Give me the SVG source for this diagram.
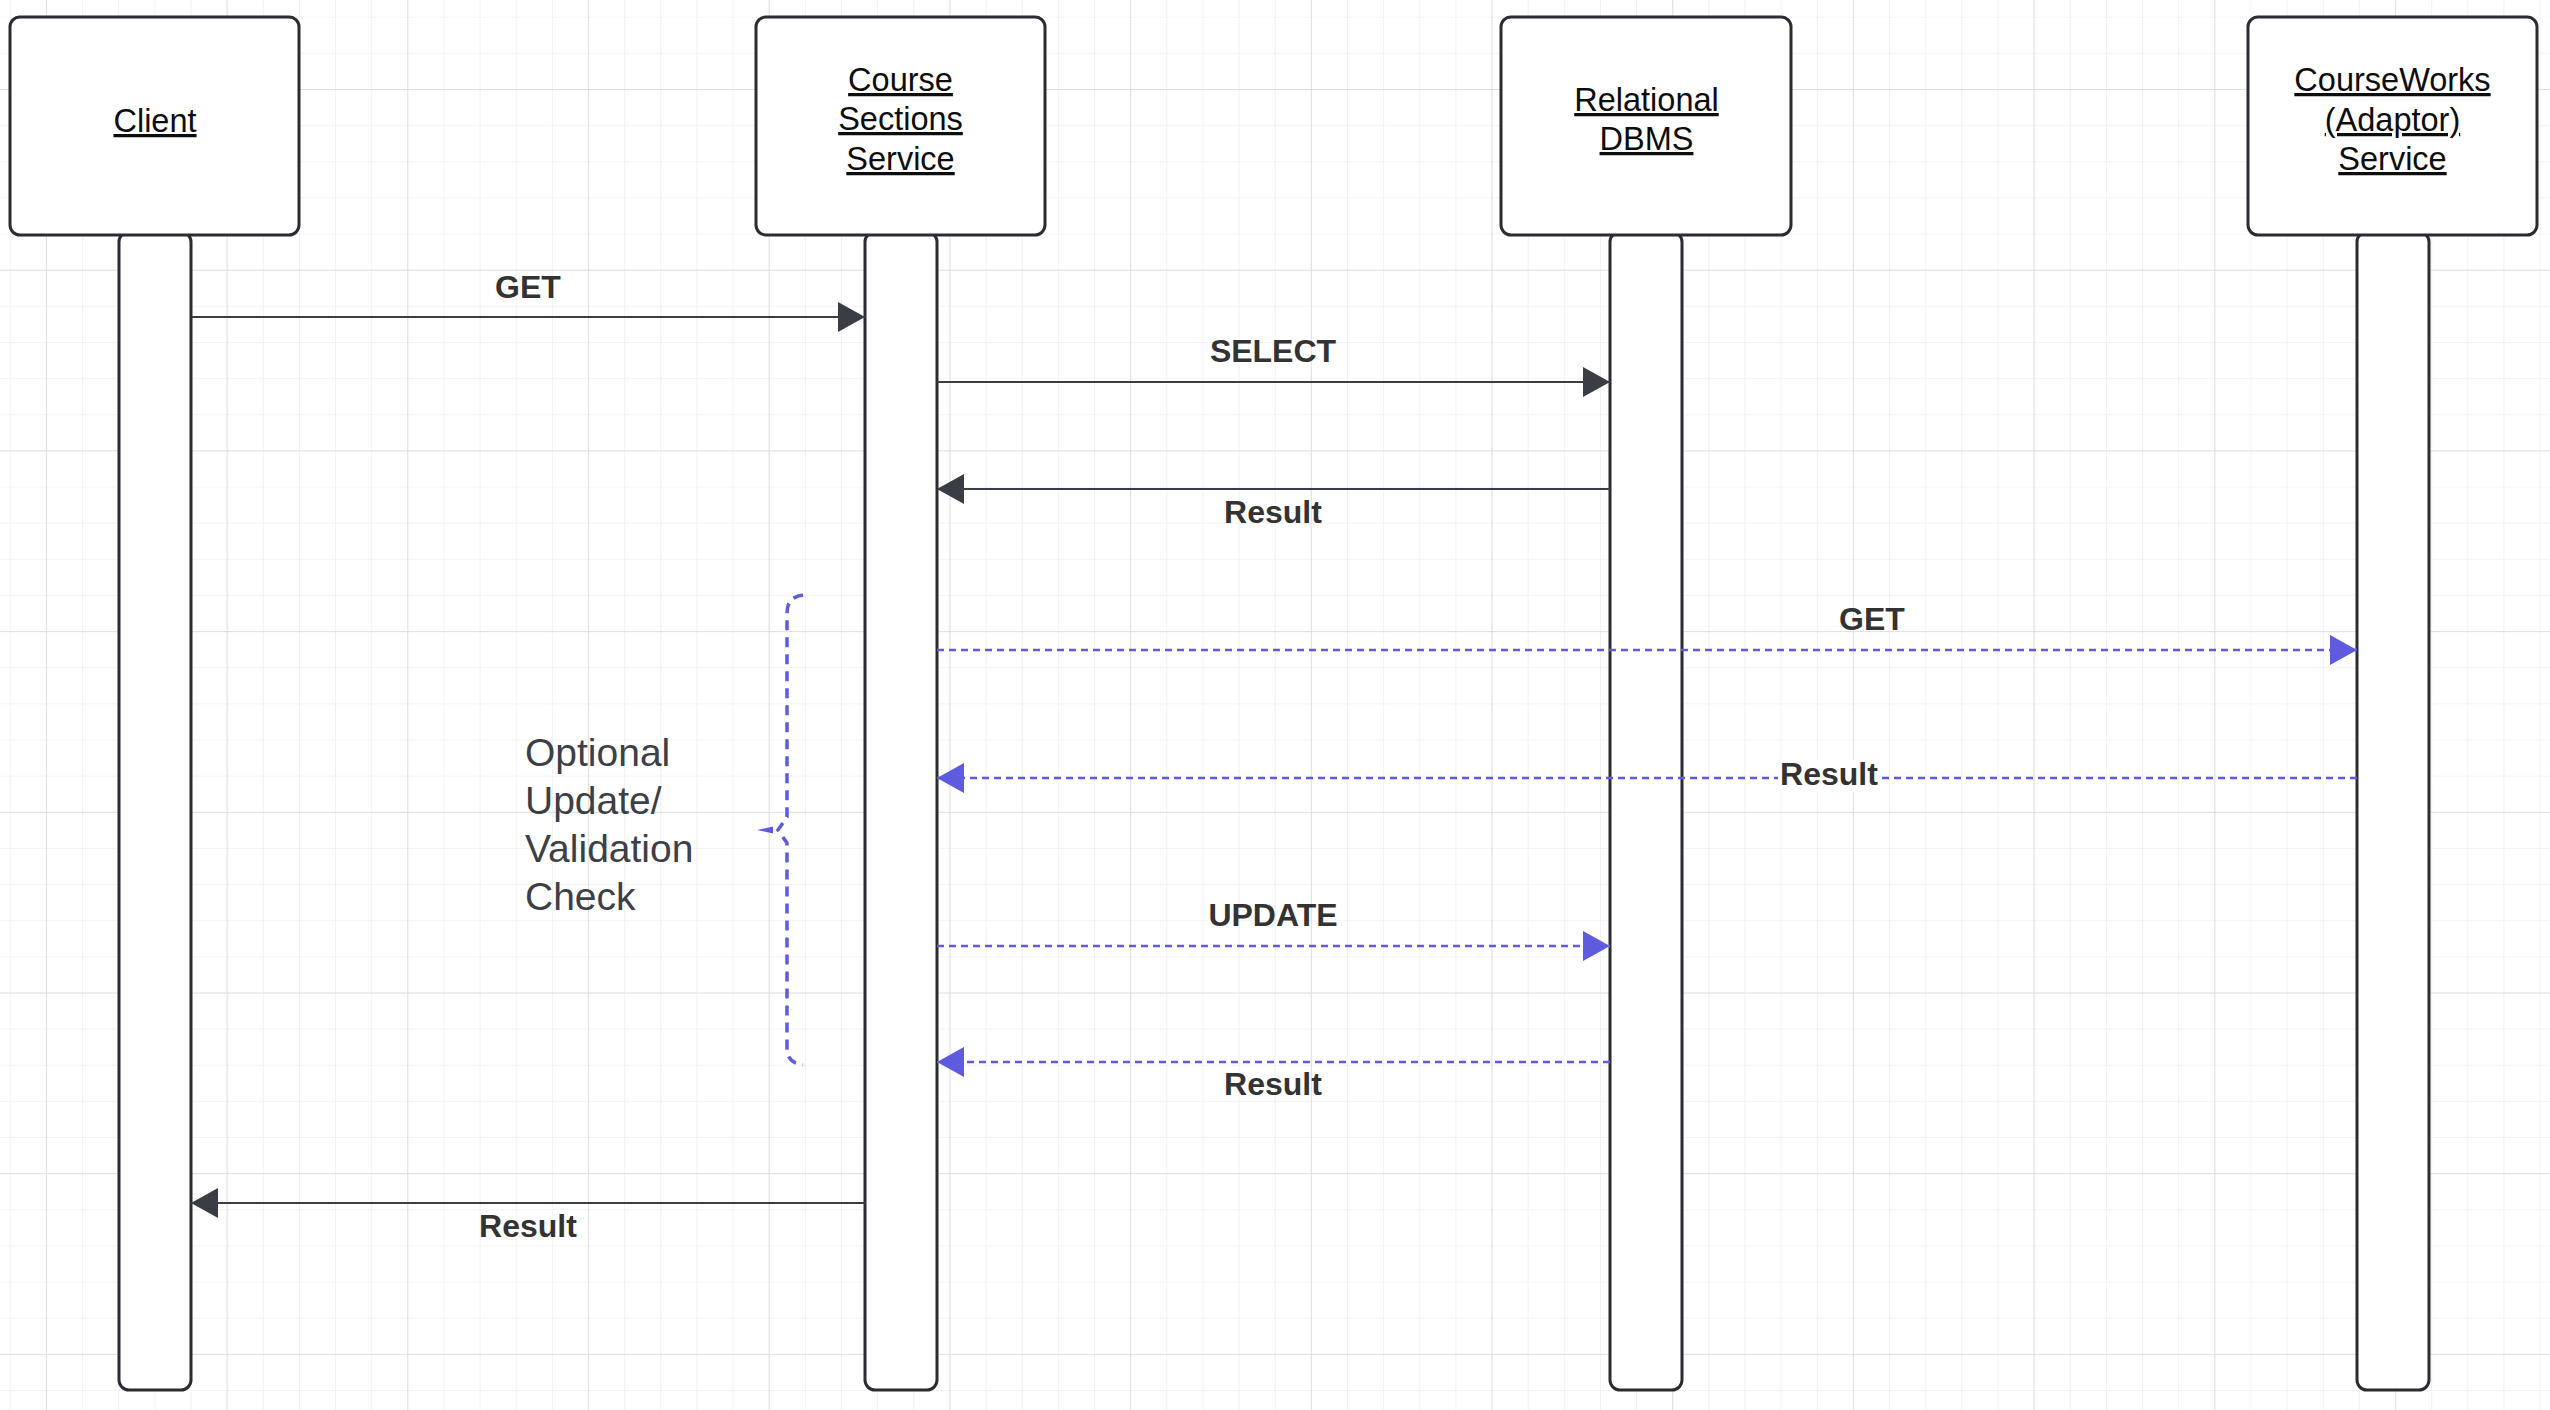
<svg xmlns="http://www.w3.org/2000/svg" width="2550" height="1410" viewBox="0 0 2550 1410">
<defs>
<style>
.box{fill:#ffffff;stroke:#2a2c32;stroke-width:3}
.bar{fill:#ffffff;stroke:#2a2c32;stroke-width:3}
.head{font-family:"Liberation Sans",Arial,sans-serif;font-size:32.5px;fill:#0d0d0d;text-anchor:middle;text-decoration:underline}
.lbl{font-family:"Liberation Sans",Arial,sans-serif;font-size:32px;font-weight:bold;fill:#333333;text-anchor:middle}
.note{font-family:"Liberation Sans",Arial,sans-serif;font-size:39px;fill:#3c3f47}
.solid{stroke:#3a3d44;stroke-width:2;fill:none}
.dash{stroke:#5f5bdf;stroke-width:2.4;fill:none;stroke-dasharray:7 5}
</style>
<pattern id="gminor" patternUnits="userSpaceOnUse" x="9.8" y="16.7" width="36.14" height="36.14">
<path d="M0,0 H36.14 M0,0 V36.14" stroke="#e9e9e9" stroke-width="1.2" fill="none"/>
</pattern>
<pattern id="gmajor" patternUnits="userSpaceOnUse" x="45.9" y="89" width="180.7" height="180.7">
<path d="M0,0 H180.7 M0,0 V180.7" stroke="#d9d9d9" stroke-width="1.4" fill="none"/>
</pattern>
<marker id="ahDark" markerUnits="userSpaceOnUse" markerWidth="28" markerHeight="30" refX="27" refY="15" orient="auto" viewBox="0 0 28 30">
<path d="M0,0 L27,15 L0,30 Z" fill="#3a3d44"/>
</marker>
<marker id="ahBlue" markerUnits="userSpaceOnUse" markerWidth="28" markerHeight="30" refX="27" refY="15" orient="auto" viewBox="0 0 28 30">
<path d="M0,0 L27,15 L0,30 Z" fill="#5f5bdf"/>
</marker>
</defs>
<rect x="0" y="0" width="2550" height="1410" fill="#ffffff"/>
<rect x="0" y="0" width="2550" height="1410" fill="url(#gminor)"/>
<rect x="0" y="0" width="2550" height="1410" fill="url(#gmajor)"/>

<g id="client">
<rect class="bar" x="119" y="232" width="72" height="1158" rx="10"/>
<rect class="box" x="10" y="17" width="289" height="218" rx="10"/>
<text class="head" x="155" y="132">Client</text>
</g>
<g id="course-sections-service">
<rect class="bar" x="865" y="232" width="72" height="1158" rx="10"/>
<rect class="box" x="756" y="17" width="289" height="218" rx="10"/>
<text class="head" x="900.5" y="91">Course</text>
<text class="head" x="900.5" y="130">Sections</text>
<text class="head" x="900.5" y="170">Service</text>
</g>
<g id="relational-dbms">
<rect class="bar" x="1610" y="232" width="72" height="1158" rx="10"/>
<rect class="box" x="1501" y="17" width="290" height="218" rx="10"/>
<text class="head" x="1646.5" y="111">Relational</text>
<text class="head" x="1646.5" y="150">DBMS</text>
</g>
<g id="courseworks-service">
<rect class="bar" x="2357" y="232" width="72" height="1158" rx="10"/>
<rect class="box" x="2248" y="17" width="289" height="218" rx="10"/>
<text class="head" x="2392.5" y="91">CourseWorks</text>
<text class="head" x="2392.5" y="131">(Adaptor)</text>
<text class="head" x="2392.5" y="170">Service</text>
</g>

<g id="optional-note">
<path d="M803,595 Q787,597 787,613 L787,817 L778,830 L787,843 L787,1048 Q787,1063 803,1065" stroke="#5f5bdf" stroke-width="3.5" fill="none" stroke-dasharray="10 7"/>
<path d="M757,830 L773,826.5 L773,833.5 Z" fill="#5f5bdf"/>
<text class="note" x="525" y="766">Optional</text>
<text class="note" x="525" y="814">Update/</text>
<text class="note" x="525" y="862">Validation</text>
<text class="note" x="525" y="910">Check</text>
</g>

<g id="connectors">
<line class="solid" x1="192" y1="317" x2="865" y2="317" marker-end="url(#ahDark)"/>
<text class="lbl" x="528" y="298">GET</text>
<line class="solid" x1="937" y1="382" x2="1610" y2="382" marker-end="url(#ahDark)"/>
<text class="lbl" x="1273" y="362">SELECT</text>
<line class="solid" x1="1610" y1="489" x2="937" y2="489" marker-end="url(#ahDark)"/>
<text class="lbl" x="1273" y="523">Result</text>
<line class="dash" x1="937" y1="650" x2="2357" y2="650" marker-end="url(#ahBlue)"/>
<text class="lbl" x="1872" y="630">GET</text>
<line class="dash" x1="2357" y1="778" x2="937" y2="778" marker-end="url(#ahBlue)"/>
<rect x="1778" y="760" width="102" height="32" fill="#ffffff"/>
<text class="lbl" x="1829" y="785">Result</text>
<line class="dash" x1="937" y1="946" x2="1610" y2="946" marker-end="url(#ahBlue)"/>
<text class="lbl" x="1273" y="926">UPDATE</text>
<line class="dash" x1="1610" y1="1062" x2="937" y2="1062" marker-end="url(#ahBlue)"/>
<text class="lbl" x="1273" y="1095">Result</text>
<line class="solid" x1="865" y1="1203" x2="191" y2="1203" marker-end="url(#ahDark)"/>
<text class="lbl" x="528" y="1237">Result</text>
</g>
</svg>
